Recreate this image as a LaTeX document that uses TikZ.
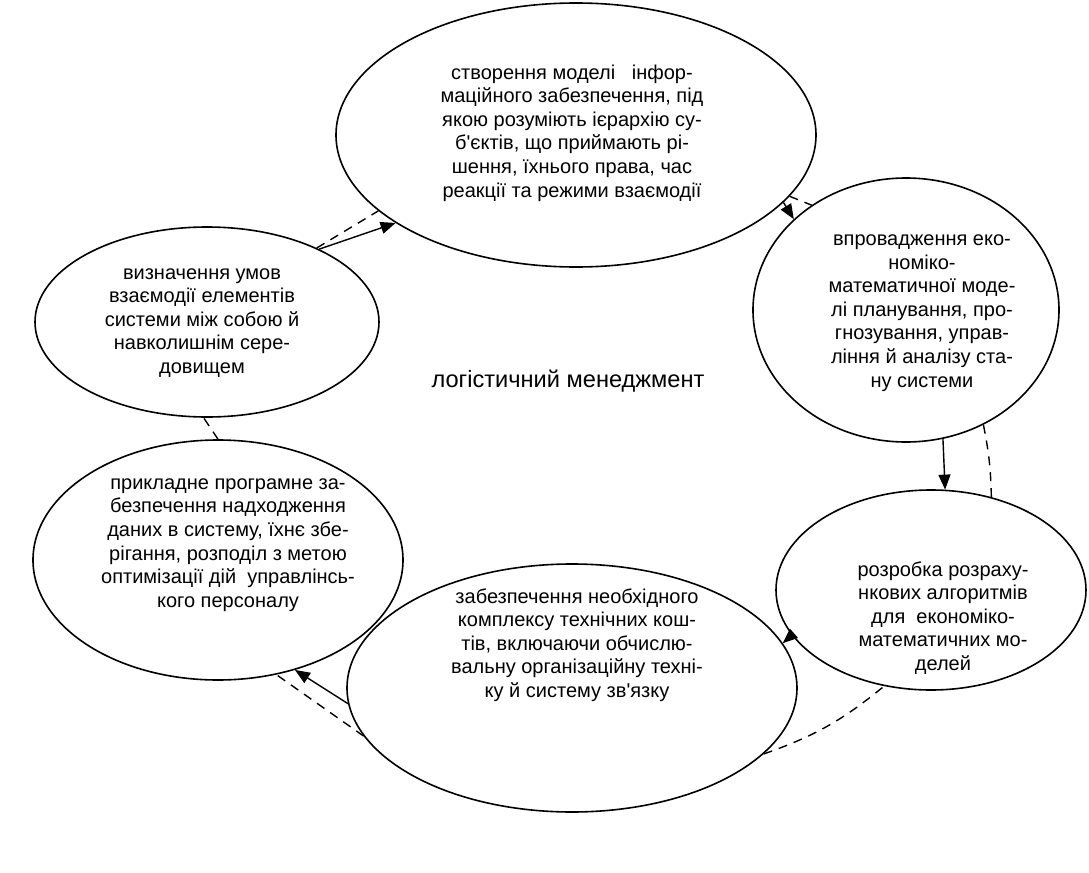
\documentclass[tikz,border=0pt]{standalone}
\usepackage{fontspec}
\setmainfont{Liberation Sans}
\usetikzlibrary{arrows.meta,shapes.geometric}

\begin{document}
\begin{tikzpicture}[x=0.5pt,y=-0.5pt]
\useasboundingbox (0,0) rectangle (1089,873);
%ellipse sizes are given in pt (half the pixel diameter)
\tikzstyle{oval}=[draw, ellipse, line width=0.8pt, inner sep=0pt]
\tikzstyle{txt}=[align=center, inner sep=0pt, font=\fontsize{10}{11.8}\selectfont]
\tikzstyle{arr}=[-{Triangle[length=7.5pt,width=6pt]}, line width=0.7pt]
\tikzstyle{back}=[line width=0.7pt, dash pattern=on 4.5pt off 3.5pt]
\node[oval, minimum width=240pt, minimum height=132pt](A) at (576,135) {};
\node[oval, minimum width=172pt, minimum height=95pt](B) at (207,322) {};
\node[oval, minimum width=153pt, minimum height=132pt](C) at (906,310) {};
\node[oval, minimum width=155pt, minimum height=100pt](D) at (931,590) {};
\node[oval, minimum width=225pt, minimum height=124pt](E) at (572,688) {};
\node[oval, minimum width=185pt, minimum height=120pt](F) at (218,560) {};
\node[txt](a) at (572,133) {створення моделі\ \ \ інфор-\\маційного забезпечення, під\\якою розуміють ієрархію су-\\б\textquotesingle єктів, що приймають рі-\\шення, їхнього права, час\\реакції та режими взаємодії};
\node[txt](b) at (202,323) {визначення умов\\взаємодії елементів\\системи між собою й\\навколишнім сере-\\довищем};
\node[txt](c) at (922,313) {впровадження еко-\\номіко-\\математичної моде-\\лі планування, про-\\гнозування, управ-\\ління й аналізу ста-\\ну системи};
\node[txt](d) at (943,618) {розробка розраху-\\нкових алгоритмів\\для\ \ економіко-\\математичних мо-\\делей};
\node[txt](e) at (577,645) {забезпечення необхідного\\комплексу технічних кош-\\тів, включаючи обчислю-\\вальну організаційну техні-\\ку й систему зв\textquotesingle язку};
\node[txt](f) at (228,545) {прикладне програмне за-\\безпечення надходження\\даних в систему, їхнє збе-\\рігання, розподіл з метою\\оптимізації дій\ \ управлінсь-\\кого персоналу};
\node[txt, font=\fontsize{11.8}{14}\selectfont](M) at (568,381) {логістичний менеджмент};
\draw[arr] (B.33) -- (A.206);
\draw[back] (B.34) -- (A.201);
\draw[arr] (A.342) -- (C.141);
\draw[back] (A.344) -- (C.132);
\draw[arr] (C.286) -- (D.82);
\draw[back] (C.304) to[bend left=5] (D.57);
\draw[arr] (D.198) -- (E.12);
\draw[back] (E.341) to[bend right=10] (D.244);
\draw[arr] (E.184) -- (F.305);
\draw[back] (E.193) -- (F.297);
\draw[back] (F.90) -- (B.268);
\end{tikzpicture}
\end{document}
